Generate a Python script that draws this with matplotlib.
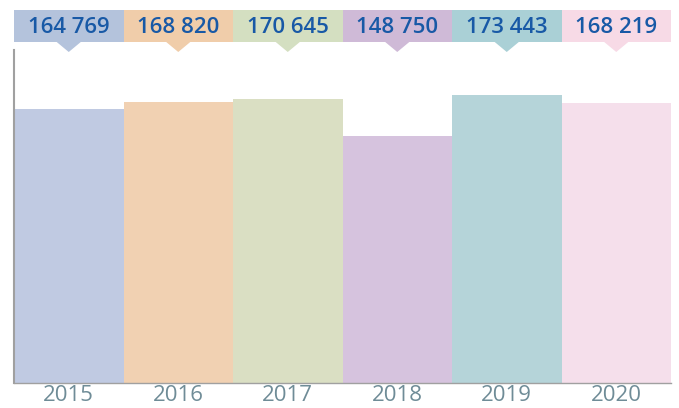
import matplotlib.pyplot as plt
from matplotlib.patches import Rectangle, Polygon

years = ["2015", "2016", "2017", "2018", "2019", "2020"]
values = [164769, 168820, 170645, 148750, 173443, 168219]
labels = ["164 769", "168 820", "170 645", "148 750", "173 443", "168 219"]
bar_colors = ["#c0cae2", "#f1d1b2", "#dadfc3", "#d6c3de", "#b5d4d9", "#f5dfeb"]
box_colors = ["#b4c3dc", "#f0cdaa", "#d4dfc1", "#cfbad7", "#aad0d6", "#f7dae6"]

fig = plt.figure(figsize=(6.79, 4.08), dpi=100)
ax = fig.add_axes([14 / 679, 25 / 408, 657 / 679, 333 / 408])

x = range(len(years))
ax.bar(x, values, width=1.0, color=bar_colors, edgecolor="none")
ax.set_xlim(-0.5, 5.5)
ax.set_ylim(0, 200250)

ax.set_xticks(list(x))
ax.set_xticklabels(years, fontsize=16, color="#6f8c97", family="Open Sans")
ax.tick_params(axis="x", length=0, pad=1.5)
ax.set_yticks([])
for s in ["top", "right"]:
    ax.spines[s].set_visible(False)
ax.spines["left"].set_color("#a0a0a0")
ax.spines["left"].set_linewidth(1.5)
ax.spines["bottom"].set_color("#a0a0a0")
ax.spines["bottom"].set_linewidth(1.0)

# value callouts above the plot
tr = ax.get_xaxis_transform()
y0, y1 = 1.024, 1.12
for i, (lab, c) in enumerate(zip(labels, box_colors)):
    ax.add_patch(Rectangle((i - 0.5, y0), 1.0, y1 - y0, transform=tr,
                           facecolor=c, edgecolor="none", clip_on=False))
    ax.add_patch(Polygon([(i - 0.11, y0), (i + 0.11, y0), (i, 0.994)],
                         closed=True, transform=tr, facecolor=c,
                         edgecolor="none", clip_on=False))
    ax.text(i, (y0 + y1) / 2 - 0.004, lab, transform=tr, ha="center", va="center",
            fontsize=16, color="#1859a6", family="Open Sans", fontweight="semibold")

fig.savefig("out.png", dpi=100)
